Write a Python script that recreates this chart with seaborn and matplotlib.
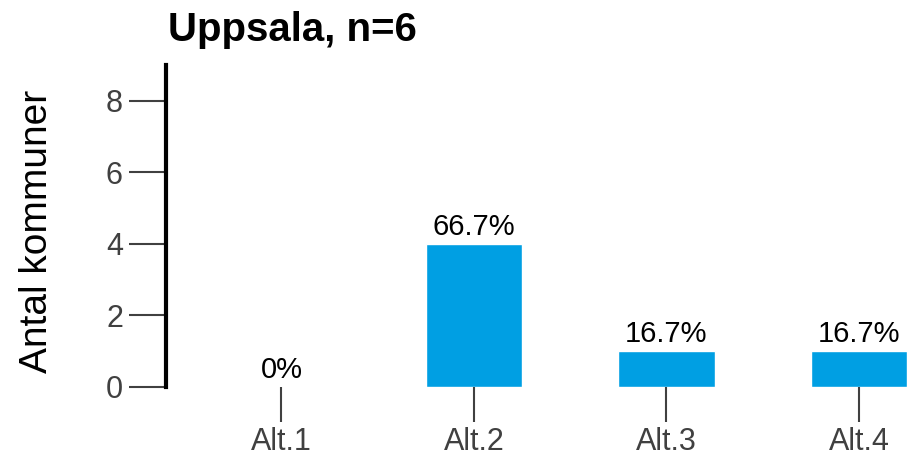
import matplotlib
matplotlib.use("Agg")
import matplotlib.pyplot as plt
import seaborn as sns
import pandas as pd

categories = ["Alt.1", "Alt.2", "Alt.3", "Alt.4"]
counts = [0, 4, 1, 1]
labels = ["0%", "66.7%", "16.7%", "16.7%"]
title = "Uppsala, n=6"
ylabel = "Antal kommuner"
yticks = [0, 2, 4, 6, 8]

sns.set_style("white")
plt.rcParams["font.family"] = ["Liberation Sans", "DejaVu Sans"]

df = pd.DataFrame({"cat": categories, "n": counts})

fig = plt.figure(figsize=(9.17, 4.59), dpi=100)
ax = fig.add_axes([166 / 917, 1 - 387 / 459, (907 - 166) / 917, (387 - 65) / 459])

sns.barplot(data=df, x="cat", y="n", color="#009FE3", saturation=1, width=0.5, ax=ax)

ax.set_xlim(-0.6, 3.25)
ax.set_ylim(0, 9)
ax.set_yticks(yticks)
ax.set_xlabel("")
ax.set_ylabel(ylabel, fontsize=28, color="black")
ax.yaxis.set_label_coords(-0.15, 0.484)

for s in ["top", "right", "bottom"]:
    ax.spines[s].set_visible(False)
ax.spines["left"].set_linewidth(3)
ax.spines["left"].set_color("black")

ax.tick_params(axis="y", length=27, width=1.5, color="#404040", labelsize=22,
               labelcolor="#404040", pad=4, left=True)
ax.tick_params(axis="x", length=25, width=1.5, color="#404040", labelsize=22,
               labelcolor="#404040", pad=4, bottom=True)
for t in ax.get_xticklines():
    t.set_clip_on(False)

for i, (v, lab) in enumerate(zip(counts, labels)):
    ax.annotate(lab, xy=(i, v), xytext=(0, 2), textcoords="offset points",
                ha="center", va="bottom", fontsize=21, color="black")

fig.text(168 / 917, 1 - 30 / 459, title, fontsize=29, fontweight="bold",
         ha="left", va="center", color="black")

fig.savefig("out.png", dpi=100)
